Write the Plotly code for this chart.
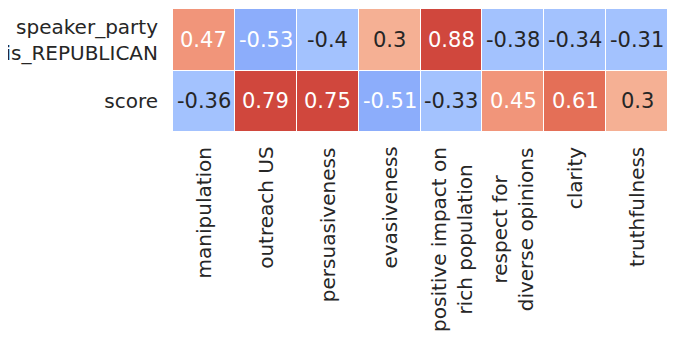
import plotly.graph_objects as go

features = ["manipulation", "outreach US", "persuasiveness", "evasiveness",
            "positive impact on<br>rich population", "respect for<br>diverse opinions",
            "clarity", "truthfulness"]
rows = ["speaker_party<br>is_REPUBLICAN", "score"]

republican_corr = [0.47, -0.53, -0.4, 0.3, 0.88, -0.38, -0.34, -0.31]
score_corr = [-0.36, 0.79, 0.75, -0.51, -0.33, 0.45, 0.61, 0.3]

z = [republican_corr, score_corr]

# stepped coolwarm-like scale over [-1, 1]
bins = [
    (-1.0, -0.45, "#8cadfb"),
    (-0.45, 0.0, "#a3c2fe"),
    (0.0, 0.4, "#f5b094"),
    (0.4, 0.55, "#f1957a"),
    (0.55, 0.7, "#e46f57"),
    (0.7, 1.0, "#d0473d"),
]
colorscale = []
for lo, hi, c in bins:
    colorscale.append([(lo + 1) / 2, c])
    colorscale.append([(hi + 1) / 2, c])

fig = go.Figure()
fig.add_trace(go.Heatmap(
    z=z, x=list(range(len(features))), y=list(range(len(rows))),
    colorscale=colorscale, zmin=-1, zmax=1, showscale=False,
    xgap=1, ygap=1, hoverinfo="skip"
))

for r, vals in enumerate(z):
    for c, v in enumerate(vals):
        fig.add_annotation(
            x=c, y=r, text="{:g}".format(v), showarrow=False,
            font=dict(family="DejaVu Sans", size=21,
                      color="white" if abs(v) >= 0.45 else "#262626")
        )

# x labels as rotated annotations so two-line labels are centred line by line
for i, name in enumerate(features):
    fig.add_annotation(
        x=i, xref="x", y=0, yref="paper", yanchor="top", yshift=-13,
        text=name, textangle=-90, align="center", showarrow=False,
        font=dict(family="DejaVu Sans", size=20, color="#262626")
    )

# page body has an 8px margin, so the figure is sized to the remaining area
fig.update_layout(
    width=669, height=329,
    margin=dict(l=165, r=9, t=1, b=205),
    plot_bgcolor="white", paper_bgcolor="white",
    font=dict(family="DejaVu Sans", size=20, color="#262626"),
)
fig.update_xaxes(tickvals=list(range(len(features))), showticklabels=False,
                 showgrid=False, zeroline=False, ticks="", automargin=False)
fig.update_yaxes(tickvals=list(range(len(rows))), ticktext=rows,
                 autorange="reversed", showgrid=False, zeroline=False, ticks="",
                 ticklabelstandoff=14, automargin=False)

fig.write_html("out.html")
